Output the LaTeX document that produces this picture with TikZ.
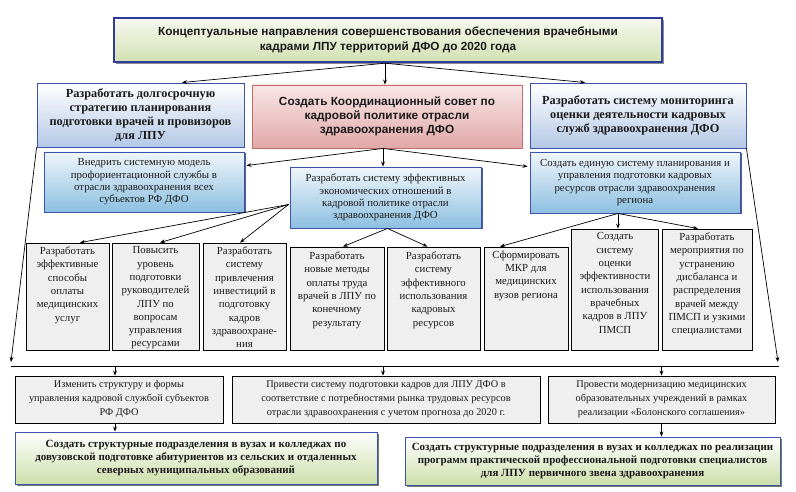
\documentclass[tikz,border=0pt]{standalone}
\usepackage{fontspec}
\setmainfont{Liberation Serif}
\newfontfamily\sansfnt{Liberation Sans}
\usetikzlibrary{arrows.meta,shadows,calc}
\definecolor{titleblue}{HTML}{2F3C9C}
\definecolor{titletop}{HTML}{F7F9F0}
\definecolor{titlebot}{HTML}{D2E0B2}
\definecolor{bluebord}{HTML}{3A52B0}
\definecolor{ltblue}{HTML}{B3C8E6}
\definecolor{redbord}{HTML}{C46A6A}
\definecolor{redtop}{HTML}{F8E6E6}
\definecolor{redbot}{HTML}{E2A8A8}
\definecolor{cyantop}{HTML}{F0F6FB}
\definecolor{cyanbot}{HTML}{8CBFE0}
\definecolor{shadblue}{HTML}{25356F}
\definecolor{grayfill}{HTML}{EFEFEF}
\definecolor{greenbot}{HTML}{CDDEAA}
\definecolor{shadgreen}{HTML}{4F5E3C}
\definecolor{txt}{HTML}{1A1A1A}
\begin{document}
\begin{tikzpicture}[x=1pt,y=-1pt,
  arr/.style={draw=black, line width=0.7pt, -{Stealth[length=5pt,width=3.8pt]}},
  ln/.style={draw=black, line width=0.7pt},
  base/.style={align=center, inner sep=0pt, text=txt},
  titlebox/.style={base, draw=titleblue, line width=2.4pt, top color=titletop, bottom color=titlebot,
     drop shadow={shadow xshift=1.5pt, shadow yshift=-2pt, fill=black!75, opacity=0.6},
     font=\sansfnt\bfseries\fontsize{11.8}{14.5}\selectfont},
  topblue/.style={base, draw=bluebord, line width=0.9pt, top color=white, bottom color=ltblue,
     font=\bfseries\fontsize{12.3}{14}\selectfont},
  topred/.style={base, draw=redbord, line width=0.9pt, top color=redtop, bottom color=redbot,
     font=\sansfnt\bfseries\fontsize{11.8}{14}\selectfont},
  midblue/.style={base, draw=bluebord, line width=0.9pt, top color=cyantop, bottom color=cyanbot,
     drop shadow={shadow xshift=1.5pt, shadow yshift=-1.5pt, fill=shadblue, opacity=0.8},
     font=\fontsize{10.8}{12.4}\selectfont},
  graybox/.style={draw=black, line width=0.8pt, fill=grayfill, inner sep=0pt},
  graytxt/.style={base, anchor=north, font=\fontsize{10.8}{13.3}\selectfont},
  lowbox/.style={base, draw=black, line width=0.8pt, fill=grayfill, font=\fontsize{10.3}{14}\selectfont},
  greenbox/.style={base, draw=bluebord, line width=0.9pt, top color=white, bottom color=greenbot,
     drop shadow={shadow xshift=1.5pt, shadow yshift=-2pt, fill=shadgreen, opacity=0.8},
     font=\bfseries\fontsize{11}{13}\selectfont}
]
\useasboundingbox (0,0) rectangle (796,492);
\fill[white] (0,0) rectangle (796,492);

% title
\node[titlebox, minimum width=548pt, minimum height=44pt] (title) at (388,40)
  {Концептуальные направления совершенствования обеспечения врачебными\\кадрами ЛПУ территорий ДФО до 2020 года};

% top row
\node[topblue, minimum width=207pt, minimum height=64pt] (lt) at (140.5,115)
  {Разработать долгосрочную\\стратегию планирования\\подготовки врачей и провизоров\\для ЛПУ};
\node[topred, minimum width=270pt, minimum height=63pt] (ct) at (387,116.5)
  {Создать Координационный совет по\\кадровой политике отрасли\\здравоохранения ДФО};
\node[topblue, minimum width=216pt, minimum height=65pt] (rt) at (638,115.5)
  {Разработать систему мониторинга\\оценки деятельности кадровых\\служб здравоохранения ДФО};

% second row
\node[midblue, minimum width=200pt, minimum height=60pt] (l2) at (144,182)
  {Внедрить системную модель\\профориентационной службы в\\отрасли здравоохранения всех\\субъектов РФ ДФО};
\node[midblue, minimum width=191pt, minimum height=61pt] (c2) at (385.5,197.5)
  {Разработать систему эффективных\\экономических отношений в\\кадровой политике отрасли\\здравоохранения ДФО};
\node[midblue, minimum width=210pt, minimum height=61pt] (r2) at (635,182.5)
  {Создать единую систему планирования и\\управления подготовки кадровых\\ресурсов отрасли здравоохранения\\региона};

% gray boxes
\node[graybox, minimum width=83pt, minimum height=107pt] (g1) at (67.5,296.5) {};
\node[graybox, minimum width=87pt, minimum height=107pt] (g2) at (155.5,296.5) {};
\node[graybox, minimum width=83pt, minimum height=107pt] (g3) at (244.5,296.5) {};
\node[graybox, minimum width=94pt, minimum height=103pt] (g4) at (337,298.5) {};
\node[graybox, minimum width=93pt, minimum height=103pt] (g5) at (433.5,298.5) {};
\node[graybox, minimum width=84pt, minimum height=103pt] (g6) at (526,298.5) {};
\node[graybox, minimum width=87pt, minimum height=121pt] (g7) at (615,289.5) {};
\node[graybox, minimum width=90pt, minimum height=121pt] (g8) at (707,289.5) {};

\node[graytxt] (g1t) at ([yshift=-4pt]g1.north) {Разработать\\эффективные\\способы\\оплаты\\медицинских\\услуг};
\node[graytxt] (g2t) at ([yshift=-4pt]g2.north) {Повысить\\уровень\\подготовки\\руководителей\\ЛПУ по\\вопросам\\управления\\ресурсами};
\node[graytxt] (g3t) at ([yshift=-4pt]g3.north) {Разработать\\систему\\привлечения\\инвестиций в\\подготовку\\кадров\\здравоохране-\\ния};
\node[graytxt] (g4t) at ([yshift=-5pt]g4.north) {Разработать\\новые методы\\оплаты труда\\врачей в ЛПУ по\\конечному\\результату};
\node[graytxt] (g5t) at ([yshift=-5pt]g5.north) {Разработать\\систему\\эффективного\\использования\\кадровых\\ресурсов};
\node[graytxt] (g6t) at ([yshift=-4pt]g6.north) {Сформировать\\МКР для\\медицинских\\вузов региона};
\node[graytxt] (g7t) at ([yshift=-4pt]g7.north) {Создать\\систему\\оценки\\эффективности\\использования\\врачебных\\кадров в ЛПУ\\ПМСП};
\node[graytxt] (g8t) at ([yshift=-4pt]g8.north) {Разработать\\мероприятия по\\устранению\\дисбаланса и\\распределения\\врачей между\\ПМСП и узкими\\специалистами};

% row 4
\node[lowbox, minimum width=208pt, minimum height=47pt] (b1) at (119,399.5)
  {Изменить структуру и формы\\управления кадровой службой субъектов\\РФ ДФО};
\node[lowbox, minimum width=308pt, minimum height=47pt] (b2) at (386,399.5)
  {Привести систему подготовки кадров для ЛПУ ДФО в\\соответствие с потребностями рынка трудовых ресурсов\\отрасли здравоохранения с учетом прогноза до 2020 г.};
\node[lowbox, minimum width=227pt, minimum height=47pt] (b3) at (661.5,399.5)
  {Провести модернизацию медицинских\\образовательных учреждений в рамках\\реализации «Болонского соглашения»};

% row 5
\node[greenbox, minimum width=362pt, minimum height=52pt] (gL) at (196,458)
  {Создать структурные подразделения в вузах и колледжах по\\довузовской подготовке абитуриентов из сельских и отдаленных\\северных муниципальных образований};
\node[greenbox, minimum width=375pt, minimum height=48pt] (gR) at (592.5,461)
  {Создать структурные подразделения в вузах и колледжах по реализации\\программ практической профессиональной подготовки специалистов\\для ЛПУ первичного звена здравоохранения};

% connectors
\coordinate (hlL) at (11,366);
\coordinate (hlR) at (779,366);

\draw[arr] ([xshift=-3pt]title.south) -- ([xshift=41.5pt]lt.north);
\draw[arr] ([xshift=-3pt]title.south) -- ([xshift=-2pt]ct.north);
\draw[arr] ([xshift=-3pt]title.south) -- ([xshift=-53pt]rt.north);

\draw[arr] ([xshift=-4pt]ct.south) -- ([yshift=-14pt,xshift=2pt]l2.north east);
\draw[arr] ([xshift=-4pt]ct.south) -- ([xshift=-2.5pt]c2.north);
\draw[arr] ([xshift=-4pt]ct.south) -- ([yshift=-15pt,xshift=-2pt]r2.north west);

\draw[arr] ([yshift=-7pt,xshift=-1pt]c2.west) -- ([xshift=12.5pt]g1.north);
\draw[arr] ([yshift=-7pt,xshift=-1pt]c2.west) -- ([xshift=4.5pt]g2.north);
\draw[arr] ([yshift=-7pt,xshift=-1pt]c2.west) -- ([xshift=-4.5pt]g3.north);
\draw[arr] ([xshift=2pt]c2.south) -- ([xshift=6pt]g4.north);
\draw[arr] ([xshift=2pt]c2.south) -- ([xshift=-6pt]g5.north);

\draw[arr] ([xshift=-17pt]r2.south) -- ([xshift=-26pt]g6.north);
\draw[arr] ([xshift=-17pt]r2.south) -- ([xshift=3pt]g7.north);
\draw[arr] ([xshift=-17pt]r2.south) -- ([xshift=-9pt]g8.north);

\draw[arr] (lt.south west) -- ([yshift=4pt]hlL);
\draw[arr] (rt.south east) -- ([yshift=4pt,xshift=-1pt]hlR);
\draw[ln] (hlL) -- (hlR);

\draw[arr] ([xshift=-4pt]b1.north |- hlL) -- ([xshift=-4pt]b1.north);
\draw[arr] ([xshift=-3pt]b2.north |- hlL) -- ([xshift=-3pt]b2.north);
\draw[arr] (b3.north |- hlL) -- (b3.north);
\draw[arr] ([xshift=-4pt]b1.south) -- ([xshift=-4pt]b1.south |- gL.north);
\draw[arr] (b3.south) -- (b3.south |- gR.north);
\end{tikzpicture}
\end{document}
